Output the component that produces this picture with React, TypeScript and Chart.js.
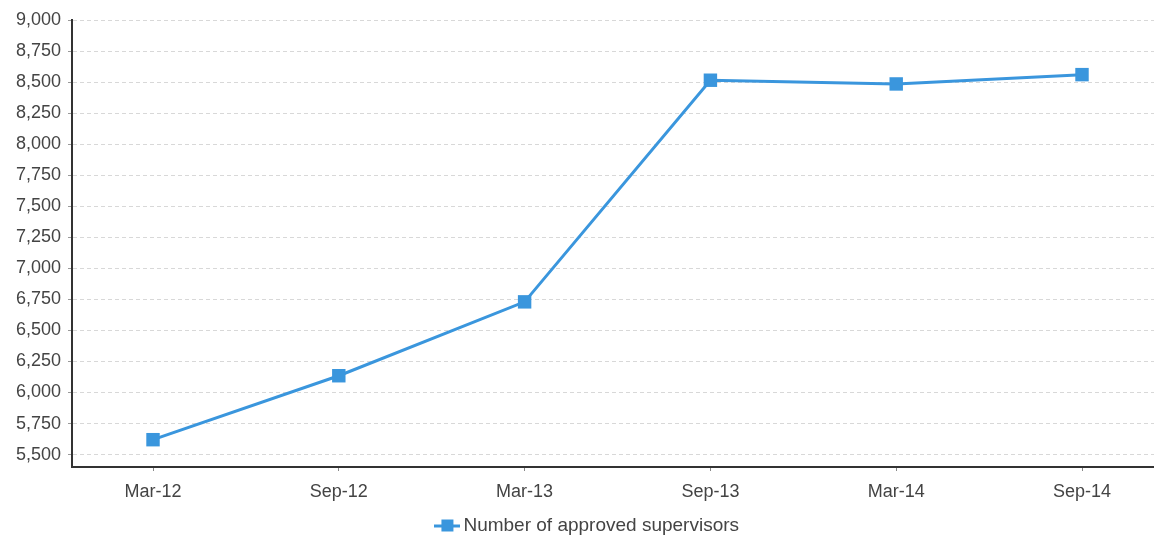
import React, { useEffect, useRef } from "react";
import { Chart, registerables } from "chart.js";

Chart.register(...registerables);

const categories = ["Mar-12", "Sep-12", "Mar-13", "Sep-13", "Mar-14", "Sep-14"];
const supervisors = [5620, 6135, 6730, 8515, 8485, 8560];
const yTicks = [5500, 5750, 6000, 6250, 6500, 6750, 7000, 7250, 7500, 7750, 8000, 8250, 8500, 8750, 9000];
const seriesLabel = "Number of approved supervisors";

const BLUE = "#3a96dd";
const TEXT = "#444444";
const FONT = "'Liberation Sans', Arial, sans-serif";

function makeLegendIcon(): HTMLCanvasElement {
  const c = document.createElement("canvas");
  c.width = 26;
  c.height = 14;
  const ctx = c.getContext("2d")!;
  ctx.fillStyle = BLUE;
  ctx.fillRect(0, 6, 26, 3);
  ctx.fillRect(7, 1, 12, 12);
  return c;
}

const shiftLegend = {
  id: "shiftLegend",
  afterLayout(chart: any) {
    const lg = chart.legend;
    if (lg) {
      lg.left += 13;
      lg.right += 13;
      lg.top += 9;
      lg.bottom += 9;
    }
  },
};

export default function App() {
  const ref = useRef<HTMLCanvasElement | null>(null);

  useEffect(() => {
    if (!ref.current) return;
    const icon = makeLegendIcon();
    const chart = new Chart(ref.current, {
      type: "line",
      data: {
        datasets: [
          {
            label: seriesLabel,
            data: supervisors.map((v, i) => ({ x: i, y: v })),
            borderColor: BLUE,
            backgroundColor: BLUE,
            borderWidth: 3,
            pointStyle: "rect",
            pointRadius: 9.5,
            pointBorderWidth: 0,
            pointBackgroundColor: BLUE,
            tension: 0,
            fill: false,
          },
        ],
      },
      plugins: [shiftLegend],
      options: {
        animation: false,
        responsive: true,
        maintainAspectRatio: false,
        layout: { autoPadding: false, padding: { top: 20, left: 0, right: 0, bottom: 0 } },
        plugins: {
          tooltip: { enabled: false },
          legend: {
            position: "bottom",
            labels: {
              usePointStyle: true,
              pointStyle: icon as any,
              pointStyleWidth: 13,
              boxHeight: 14,
              color: TEXT,
              font: { family: FONT, size: 19 },
              padding: 0,
            },
          },
        },
        scales: {
          x: {
            type: "linear",
            min: -0.436,
            max: 5.3875,
            afterBuildTicks: (scale: any) => {
              scale.ticks = categories.map((_, i) => ({ value: i }));
            },
            afterFit: (scale: any) => {
              scale.height = 40;
            },
            ticks: {
              color: TEXT,
              font: { family: FONT, size: 18 },
              padding: 10,
              maxRotation: 0,
              autoSkip: false,
              callback: (v: any) => categories[Number(v)] ?? "",
            },
            grid: {
              drawOnChartArea: false,
              drawTicks: true,
              tickLength: 4,
              tickColor: "#888",
            },
            border: { display: true, color: "#333", width: 2 },
          },
          y: {
            type: "linear",
            min: 5400,
            max: 9000,
            afterBuildTicks: (scale: any) => {
              scale.ticks = yTicks.map((v) => ({ value: v }));
            },
            afterFit: (scale: any) => {
              scale.width = 72;
            },
            ticks: {
              color: TEXT,
              font: { family: FONT, size: 18 },
              padding: 7,
              callback: (v: any) => Number(v).toLocaleString("en-US"),
            },
            grid: {
              color: "#d8d8d8",
              lineWidth: 1,
              drawTicks: true,
              tickLength: 4,
              tickColor: "#999",
              tickBorderDash: [],
            } as any,
            border: { display: true, color: "#333", width: 2, dash: [4, 3] } as any,
          },
        },
      },
    } as any);
    return () => chart.destroy();
  }, []);

  return (
    <div style={{ position: "fixed", left: 0, top: 0, width: 1154, height: 536, background: "#fff" }}>
      <canvas ref={ref} />
    </div>
  );
}
